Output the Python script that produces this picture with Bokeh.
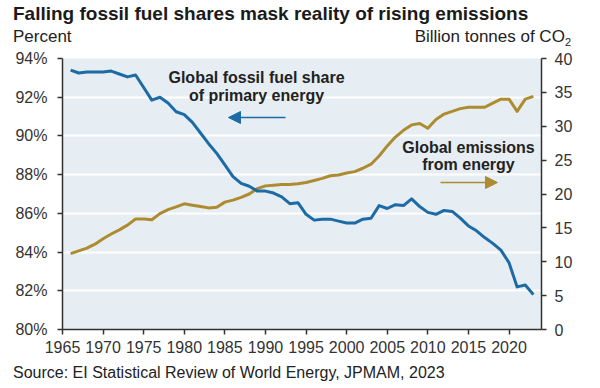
from bokeh.plotting import figure
from bokeh.layouts import column
from bokeh.models import (Range1d, LinearAxis, Label, Arrow, NormalHead,
                          FixedTicker, CustomJSTickFormatter, Div)
from bokeh.embed import file_html
from bokeh.resources import INLINE

years = list(range(1966, 2024))

fossil_share = [
    93.4, 93.25, 93.3, 93.3, 93.3, 93.35, 93.2, 93.05, 93.15, 92.5,
    91.85, 92.0, 91.7, 91.25, 91.1, 90.7, 90.15, 89.6, 89.1, 88.5,
    87.9, 87.55, 87.4, 87.15, 87.15, 87.05, 86.85, 86.5, 86.55, 85.95,
    85.65, 85.7, 85.7, 85.6, 85.5, 85.5, 85.7, 85.75, 86.4, 86.25,
    86.45, 86.4, 86.75, 86.35, 86.05, 85.95, 86.15, 86.1, 85.75, 85.35,
    85.1, 84.75, 84.45, 84.1, 83.45, 82.2, 82.3, 81.8,
]

emissions = [
    11.2, 11.6, 12.0, 12.6, 13.4, 14.1, 14.7, 15.4, 16.3, 16.3,
    16.2, 17.1, 17.7, 18.1, 18.55, 18.35, 18.15, 17.95, 18.05, 18.8,
    19.1, 19.5, 20.0, 20.8, 21.2, 21.3, 21.4, 21.4, 21.5, 21.7,
    22.0, 22.3, 22.7, 22.8, 23.1, 23.3, 23.8, 24.4, 25.6, 27.1,
    28.4, 29.4, 30.2, 30.4, 29.7, 31.0, 31.8, 32.2, 32.6, 32.8,
    32.8, 32.8, 33.4, 34.0, 34.0, 32.2, 34.0, 34.4,
]

x_ticks = list(range(1965, 2021, 5))
left_ticks = [80, 82, 84, 86, 88, 90, 92, 94]
right_ticks = [0, 5, 10, 15, 20, 25, 30, 35, 40]

title_text = "Falling fossil fuel shares mask reality of rising emissions"
left_unit = "Percent"
right_unit = "Billion tonnes of CO<sub style='font-size:11px'>2</sub>"
source_text = "Source: EI Statistical Review of World Energy, JPMAM, 2023"
share_label = ["Global fossil fuel share", "of primary energy"]
emis_label = ["Global emissions", "from energy"]

BLUE = "#1d6ba5"
GOLD = "#ad8c30"
FONT = "Liberation Sans"
TXT = "#333333"

W = 600
HEAD_H = 48
FOOT_H = 24
MAIN_H = 388 - HEAD_H - FOOT_H
# frame edges in page pixels
FL, FR, FT, FB = 62, 541, 58, 329
X0, X1 = 1965, 2024
Y0, Y1 = 80, 94


def span(text, left=None, right=None, top=0, size=16, bold=False, color="#222222"):
    pos = f"left:{left}px;" if left is not None else f"right:{right}px;"
    weight = "bold" if bold else "normal"
    return (f"<span style=\"position:absolute;{pos}top:{top}px;"
            f"font-family:'{FONT}';font-size:{size}px;font-weight:{weight};"
            f"line-height:{size}px;color:{color};white-space:nowrap;\">{text}</span>")


def box(h, inner):
    return (f"<div style=\"position:relative;width:{W}px;height:{h}px;"
            f"overflow:visible;\">{inner}</div>")


head = Div(text=box(HEAD_H,
                    span(title_text, left=13, top=4, size=19, bold=True, color="#1a1a1a")
                    + span(left_unit, left=13, top=27.6, size=17)
                    + span(right_unit, right=W - 571, top=27.6, size=17)),
           width=W, height=HEAD_H, margin=0)

foot = Div(text=box(FOOT_H, span(source_text, left=13, top=0.5, size=16)),
           width=W, height=FOOT_H, margin=0)

# main chart
p = figure(width=W, height=MAIN_H, output_backend="svg", toolbar_location=None,
           x_range=Range1d(X0, X1), y_range=Range1d(Y0, Y1),
           min_border_left=FL, min_border_right=W - FR,
           min_border_top=FT - HEAD_H, min_border_bottom=HEAD_H + MAIN_H - FB,
           margin=0)
p.title = None
p.outline_line_color = None
p.background_fill_color = "#e6edf3"
p.border_fill_color = "white"
p.extra_y_ranges = {"co2": Range1d(0, 40)}


def px_x(px):
    return X0 + (px - FL) * (X1 - X0) / (FR - FL)


def px_y(py):
    return Y0 + (FB - py) * (Y1 - Y0) / (FB - FT)


def style_axis(ax, standoff):
    ax.axis_line_color = "#333333"
    ax.axis_line_width = 1.5
    ax.major_tick_line_color = "#333333"
    ax.major_tick_line_width = 1.5
    ax.major_tick_out = 5
    ax.major_tick_in = 0
    ax.minor_tick_line_color = None
    ax.major_label_text_font = FONT
    ax.major_label_text_font_size = "16px"
    ax.major_label_text_color = TXT
    ax.major_label_standoff = standoff


p.xaxis.ticker = FixedTicker(ticks=x_ticks)
style_axis(p.xaxis[0], 6)
p.yaxis.ticker = FixedTicker(ticks=left_ticks)
p.yaxis.formatter = CustomJSTickFormatter(code="return tick.toFixed(0) + '%';")
style_axis(p.yaxis[0], 10)

raxis = LinearAxis(y_range_name="co2", ticker=FixedTicker(ticks=right_ticks))
style_axis(raxis, 8)
p.add_layout(raxis, "right")

p.xgrid.grid_line_color = None
p.ygrid.grid_line_color = "white"
p.ygrid.grid_line_width = 2

p.line(years, emissions, y_range_name="co2", line_color=GOLD, line_width=3,
       line_join="round")
p.line(years, fossil_share, line_color=BLUE, line_width=3, line_join="round")


def put(x, y, text, size, bold=False, align="left", color="#222222"):
    p.add_layout(Label(x=x, y=y, text=text, text_font=FONT, text_font_size=size,
                       text_font_style="bold" if bold else "normal",
                       text_align=align, text_baseline="alphabetic",
                       text_color=color))


put(px_x(256), px_y(77), share_label[0], "16px", bold=True, align="center")
put(px_x(256), px_y(95), share_label[1], "16px", bold=True, align="center")
put(px_x(468), px_y(147), emis_label[0], "16px", bold=True, align="center")
put(px_x(468), px_y(164), emis_label[1], "16px", bold=True, align="center")

p.add_layout(Arrow(end=NormalHead(size=12, fill_color=BLUE, line_color=BLUE),
                   x_start=px_x(285), y_start=px_y(117), x_end=px_x(228), y_end=px_y(117),
                   line_color=BLUE, line_width=1.5))
p.add_layout(Arrow(end=NormalHead(size=12, fill_color=GOLD, line_color=GOLD),
                   x_start=px_x(440), y_start=px_y(182), x_end=px_x(497), y_end=px_y(182),
                   line_color=GOLD, line_width=1.5))

layout = column(head, p, foot, spacing=0)
open("out.html", "w").write(file_html(layout, INLINE))
